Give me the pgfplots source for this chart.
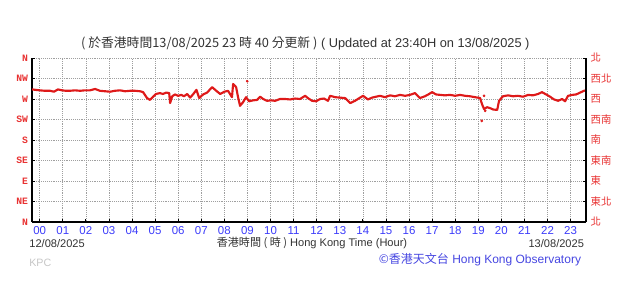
\documentclass[border=0pt]{standalone}
\usepackage{pgfplots}
\pgfplotsset{compat=1.18}
\usepackage{fontspec}
\setmainfont{Liberation Sans}
\newfontfamily\cjk{Noto Sans CJK TC}
\newfontfamily\mono{Liberation Mono}
\definecolor{wred}{RGB}{222,25,25}
\definecolor{lred}{RGB}{232,50,50}
\definecolor{tblue}{RGB}{60,60,250}
\definecolor{fblue}{RGB}{70,70,225}
\definecolor{tgray}{RGB}{50,50,50}
\pgfplotstableread{
h deg
-0.33 291
0.00 289
0.23 288
0.45 288
0.62 286
0.79 291
0.97 289
1.14 288
1.31 288
1.53 289
1.75 288
1.96 289
2.18 289
2.40 292
2.61 288
2.83 287
3.05 286
3.26 288
3.48 289
3.70 287
3.91 288
4.13 288
4.35 287
4.48 285
4.65 272
4.78 268
4.91 275
5.04 281
5.21 283
5.34 281
5.48 284
5.61 283
5.65 261
5.74 276
5.86 280
6.00 277
6.13 279
6.25 276
6.39 281
6.52 273
6.64 280
6.79 290
6.91 272
7.08 280
7.25 284
7.47 296
7.65 288
7.82 281
8.00 286
8.16 288
8.33 274
8.38 303
8.51 296
8.59 275
8.68 255
8.81 263
8.94 274
9.07 265
9.24 267
9.42 268
9.55 275
9.68 270
9.85 266
10.02 267
10.20 266
10.41 270
10.63 270
10.85 269
11.06 271
11.28 270
11.50 277
11.62 272
11.80 266
11.97 265
12.15 270
12.32 271
12.49 266
12.58 277
12.80 274
13.01 273
13.23 272
13.45 261
13.66 266
13.88 273
14.01 277
14.22 269
14.40 273
14.57 275
14.74 277
14.96 274
15.18 278
15.39 276
15.61 279
15.83 277
16.04 279
16.26 283
16.47 272
16.69 276
16.87 281
17.00 285
17.17 280
17.35 279
17.56 278
17.78 279
18.00 277
18.21 279
18.43 277
18.64 276
18.86 274
19.08 272
19.16 259
19.25 248
19.38 252
19.51 250
19.64 247
19.82 246
19.90 266
20.07 276
20.29 278
20.51 276
20.72 277
20.94 275
21.16 279
21.37 278
21.59 281
21.76 285
21.94 280
22.11 275
22.28 269
22.46 266
22.63 270
22.76 265
22.89 277
23.07 279
23.24 280
23.41 284
23.58 288
23.66 289
}\wind
\begin{document}
\begin{tikzpicture}
\useasboundingbox (0,0) rectangle (474.75pt,216pt);
\begin{axis}[
  at={(24pt,49.5pt)}, anchor=south west,
  scale only axis, width=415.5pt, height=123pt,
  xmin=-0.333, xmax=23.667, ymin=0, ymax=360,
  axis x line*=bottom, axis y line*=left,
  axis line style={-, black, line width=1.2pt},
  xtick={0,...,23},
  xticklabels={00,01,02,03,04,05,06,07,08,09,10,11,12,13,14,15,16,17,18,19,20,21,22,23},
  ytick={0,45,...,360},
  yticklabels={N,NE,E,SE,S,SW,W,NW,N},
  yticklabel style={font=\mono\bfseries\fontsize{7.3}{8}\selectfont, text=lred, xshift=0.5pt},
  xticklabel style={font=\fontsize{8.6}{9}\selectfont, text=tblue},
  tick style={black, line width=0.6pt},
  major tick length=2.5pt,
  grid=major,
  grid style={densely dotted, gray!75, line width=0.5pt},
  xtick pos=bottom, ytick pos=left,
  tick align=inside,
  clip=false,
]
\addplot[wred, line width=1.6pt, line join=round] table[x=h, y=deg] {\wind};
\addplot[only marks, mark=*, mark size=0.8pt, wred] coordinates {(8.99,309) (19.15,222) (19.25,277) (19.3,244)};
\end{axis}
\begin{axis}[
  at={(24pt,49.5pt)}, anchor=south west,
  scale only axis, width=415.5pt, height=123pt,
  xmin=-0.333, xmax=23.667, ymin=0, ymax=360,
  hide x axis,
  axis y line*=right,
  axis line style={-, black, line width=1.2pt},
  ytick={0,45,...,360},
  yticklabels={北,東北,東,東南,南,西南,西,西北,北},
  yticklabel style={font=\cjk\fontsize{7.8}{8}\selectfont, text=lred},
  tick style={black, line width=0.6pt},
  major tick length=2.5pt,
  tick align=inside,
]
\end{axis}
\node[font=\fontsize{9.6}{11}\selectfont, text=tgray, anchor=base] at (229pt,180.5pt)
  {{\cjk ( 於香港時間13/08/2025 23 時 40 分更新 )} ( Updated at 23:40H on 13/08/2025 )};
\node[font=\fontsize{8.3}{10}\selectfont, text=tgray, anchor=west] at (18.5pt,33.5pt) {12/08/2025};
\node[font=\fontsize{8.3}{10}\selectfont, text=tgray, anchor=east] at (441.5pt,33.5pt) {13/08/2025};
\node[font=\fontsize{8.3}{10}\selectfont, text=tgray] at (234pt,33.5pt) {{\cjk 香港時間 ( 時 )} Hong Kong Time (Hour)};
\node[font=\fontsize{8}{10}\selectfont, text=gray!45, anchor=west] at (18.5pt,19pt) {KPC};
\node[font=\fontsize{9}{11}\selectfont, text=fblue] at (360pt,21pt) {{\cjk ©香港天文台} Hong Kong Observatory};
\end{tikzpicture}
\end{document}
